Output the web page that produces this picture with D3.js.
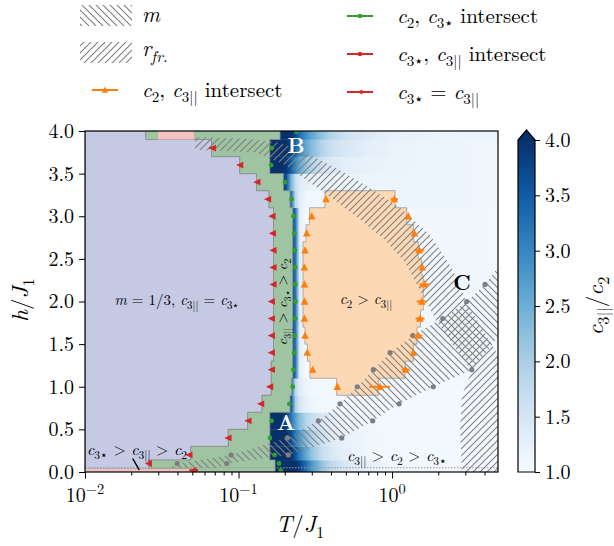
<!DOCTYPE html>
<html><head><meta charset="utf-8">
<script src="https://cdn.jsdelivr.net/npm/d3@7"></script>
<style>body{margin:0;background:#fff}svg{display:block}text{font-family:"Latin Modern Roman","Liberation Serif",serif;fill:#000}</style>
</head><body><svg id="c" width="614" height="546"></svg>
<script>
// ---------- DATA ----------
const xDomain = [0.01, 4.9];
const yDomain = [0, 4];
const yTickValues = [0, 0.5, 1, 1.5, 2, 2.5, 3, 3.5, 4];
const xMajorTicks = [0.01, 0.1, 1];
const xMajorExp = ["\u22122", "\u22121", "0"];
const xMinorTicks = [0.02,0.03,0.04,0.05,0.06,0.07,0.08,0.09,0.2,0.3,0.4,0.5,0.6,0.7,0.8,0.9,2,3,4];
const cbTicks = [1, 1.5, 2, 2.5, 3, 3.5, 4];
const cbDomain = [1, 4];

// heatmap of c3||/c2 : row bands (h) and values at T stops
const heatRowLo = [0, 0.14, 0.3, 0.5, 0.7, 0.9, 1.1, 3.1, 3.3, 3.5, 3.7, 3.9];
const heatRowHi = [0.14, 0.3, 0.5, 0.7, 0.9, 1.1, 3.1, 3.3, 3.5, 3.7, 3.9, 4.0];
const heatStopT = [0.16,0.175,0.19,0.205,0.22,0.235,0.25,0.275,0.3,0.35,0.4,0.5,0.7,1.0,2.0,4.9];
const heatValues = [
  [4,4,4,4,4,4,3.8,3.3,2.8,2.2,1.8,1.45,1.25,1.12,1.08,1.06],
  [4,4,4,4,4,3.6,3.1,2.6,2.2,1.7,1.45,1.25,1.12,1.08,1.06,1.05],
  [4,4,4,4,3.7,3.2,2.8,2.3,2.0,1.6,1.4,1.22,1.12,1.08,1.06,1.05],
  [4,4,4,3.8,3.2,2.7,2.3,1.9,1.7,1.45,1.3,1.18,1.1,1.08,1.06,1.05],
  [4,4,4,4,3.6,2.0,1.5,1.25,1.15,1.1,1.08,1.07,1.07,1.07,1.06,1.05],
  [4,4,4,4,3.5,1.8,1.35,1.15,1.1,1.08,1.07,1.07,1.07,1.07,1.06,1.05],
  [4,4,4,4,4,3.2,1.3,1.05,1.03,1.03,1.04,1.06,1.08,1.1,1.12,1.1],
  [4,4,4,4,3.3,1.8,1.3,1.12,1.1,1.1,1.1,1.1,1.12,1.15,1.15,1.12],
  [4,4,4,3.6,2.4,1.7,1.4,1.25,1.2,1.18,1.15,1.15,1.15,1.15,1.15,1.12],
  [4,4,4,3.9,3.5,3.0,2.6,2.2,1.9,1.6,1.4,1.3,1.22,1.18,1.15,1.12],
  [4,4,4,4,3.8,3.4,3.0,2.6,2.3,1.9,1.65,1.45,1.3,1.2,1.15,1.12],
  [4,4,4,4,4,3.7,3.3,2.9,2.6,2.2,1.9,1.6,1.4,1.25,1.18,1.15]
];

// m = 1/3 region (lavender), rows: h range and right T bound
const lavLo = [3.9, 3.7, 3.5, 3.3, 3.1, 1.3, 0.9, 0.7, 0.5, 0.3, 0.14, 0.035];
const lavHi = [4.0, 3.9, 3.7, 3.5, 3.3, 3.1, 1.3, 0.9, 0.7, 0.5, 0.3, 0.14];
const lavTR = [0.0249, 0.0668, 0.102, 0.131, 0.158, 0.169, 0.1635, 0.1424, 0.1148, 0.0858, 0.0488, 0.026];

// c3|| > c3* > c2 region (green)
const grnLo = [3.9, 3.7, 3.5, 3.3, 3.1, 1.3, 1.1, 0.9, 0.7, 0.5, 0.3, 0.14, 0.035, 0];
const grnHi = [4.0, 3.9, 3.7, 3.5, 3.3, 3.1, 1.3, 1.1, 0.9, 0.7, 0.5, 0.3, 0.14, 0.035];
const grnTL = [0.0249, 0.0668, 0.102, 0.131, 0.158, 0.169, 0.1635, 0.1635, 0.1424, 0.1148, 0.0858, 0.0488, 0.026, 0.05];
const grnTR = [0.1864, 0.160, 0.160, 0.196, 0.2165, 0.2254, 0.2254, 0.222, 0.2165, 0.160, 0.160, 0.160, 0.173, 0.173];

// pink regions
const pinkLo = [3.9, 0];
const pinkHi = [4.0, 0.035];
const pinkTL = [0.0299, 0.01];
const pinkTR = [0.0513, 0.05];

// c2 > c3|| region (orange)
const oraLo = [3.1, 2.9, 2.7, 2.5, 2.3, 1.9, 1.7, 1.5, 1.3, 1.1, 0.9];
const oraHi = [3.3, 3.1, 2.9, 2.7, 2.5, 2.3, 1.9, 1.7, 1.5, 1.3, 1.1];
const oraTL = [0.366, 0.29, 0.275, 0.263, 0.263, 0.263, 0.263, 0.271, 0.281, 0.292, 0.436];
const oraTR = [1.046, 1.247, 1.377, 1.483, 1.562, 1.599, 1.534, 1.455, 1.377, 1.215, 0.814];

// hatched band m (upper-left edge and lower-right edge), [T, h]
const mEdgeA = [[0.036,0.05],[0.0399,0.1],[0.0894,0.2],[0.2079,0.4],[0.3311,0.6],[0.4583,0.8],[0.594,1.0],[0.7553,1.2],[0.9705,1.4],[1.364,1.6],[2.139,1.8],[3.066,2.0],[4.036,2.2],[4.9,2.4]];
const mEdgeB = [[0.075,0.05],[0.0838,0.1],[0.2111,0.2],[0.4701,0.4],[0.7485,0.6],[1.111,0.8],[1.858,1.0],[3.305,1.2],[4.48,1.49],[4.9,1.6]];
// hatched band r_fr.
const rEdgeA = [[0.0521,3.93],[0.1188,3.906],[0.1864,3.86],[0.2922,3.72],[0.4583,3.54],[0.7189,3.33],[1.127,3.10],[1.768,2.78],[2.459,2.39],[3.08,1.98],[4.48,1.49],[4.9,1.37],[4.9,0]];
const rEdgeB = [[0.0521,3.78],[0.1281,3.75],[0.2009,3.60],[0.3396,3.31],[0.574,3.01],[0.900,2.72],[1.215,2.46],[1.522,2.13],[1.964,1.76],[3.305,1.185],[2.858,0.90],[2.773,0.49],[2.858,0]];

// gray boundary points
const grayT = [0.0399,0.0838,0.0894,0.2111,0.2079,0.4701,0.3311,0.7485,0.4583,1.111,0.594,1.858,0.7553,3.305,0.9705,1.364,2.139,3.066,4.036];
const grayH = [0.1,0.1,0.2,0.2,0.4,0.4,0.6,0.6,0.8,0.8,1.0,1.0,1.2,1.2,1.4,1.6,1.8,2.0,2.2];

// c3* = c3|| (red, left triangles)
const redH = [3.8,3.6,3.4,3.2,3.0,2.8,2.6,2.4,2.2,2.0,1.8,1.6,1.4,1.2,1.0,0.8,0.6,0.4,0.2,0.1,0.02];
const redT = [0.0679,0.1023,0.1325,0.1555,0.166,0.1671,0.1686,0.1686,0.1686,0.1645,0.1645,0.1645,0.1645,0.1645,0.1603,0.1402,0.1159,0.0859,0.0478,0.026,0.0508];
const redErrLo = [0.0645,null,null,null,null,null,null,null,null,null,null,null,null,null,null,null,null,null,null,null,0.0478];
const redErrHi = [0.0715,null,null,null,null,null,null,null,null,null,null,null,null,null,null,null,null,null,null,null,0.0545];

// c2, c3* intersect (green dots)
const greenH = [3.99,3.8,3.6,3.4,3.2,3.0,2.8,2.6,2.4,2.2,2.0,1.8,1.6,1.4,1.2,1.0,0.8,0.6,0.4,0.2,0.1,0.02];
const greenT = [0.239,0.1645,0.1629,0.2009,0.2214,0.2281,0.2305,0.2332,0.2341,0.2341,0.2345,0.2345,0.2322,0.23,0.2277,0.2256,0.2142,0.1645,0.1603,0.1717,0.1833,0.1884];

// c2, c3|| intersect (orange up triangles)
const oraMH = [3.2,3.0,2.8,2.6,2.4,2.2,2.0,1.8,1.6,1.4,1.2,1.0];
const oraLeftT = [0.3715,0.2997,0.2782,0.2712,0.2685,0.2685,0.2692,0.2685,0.2712,0.2806,0.3043,0.4403];
const oraRightT = [1.035,1.276,1.397,1.505,1.575,1.622,1.562,1.522,1.484,1.376,1.227,0.835];
const oraErrLo = [0.982,null,null,1.397,null,1.505,1.448,1.423,1.397,null,1.157,0.711];
const oraErrHi = [1.091,null,null,1.623,null,1.750,1.683,1.628,1.576,null,1.304,0.971];

// ---------- DRAW ----------
const FONT = '"Latin Modern Roman","Liberation Serif",serif';
const svg = d3.select("#c");
const X0 = 85, X1 = 498, Y0 = 131, Y1 = 472;
const x = d3.scaleLog().domain(xDomain).range([X0, X1]);
const y = d3.scaleLinear().domain(yDomain).range([Y1, Y0]);
const col = d3.scaleSequential(d3.interpolateBlues).domain(cbDomain).clamp(true);
const defs = svg.append("defs");

defs.append("clipPath").attr("id","clip").append("rect")
  .attr("x",X0).attr("y",Y0).attr("width",X1-X0).attr("height",Y1-Y0);

function hatch(id, d){
  const p = defs.append("pattern").attr("id",id).attr("patternUnits","userSpaceOnUse")
    .attr("width",7).attr("height",7);
  p.append("path").attr("d",d).attr("stroke","#808080").attr("stroke-width",1.1).attr("fill","none");
}
hatch("hM","M0,0L7,7M-1,6L1,8M6,-1L8,1");
hatch("hR","M0,7L7,0M-1,1L1,-1M6,8L8,6");

const plot = svg.append("g").attr("clip-path","url(#clip)");

// heatmap
plot.append("rect").attr("x",X0).attr("y",Y0).attr("width",X1-X0).attr("height",Y1-Y0).attr("fill",col(1.1));
heatRowLo.forEach((lo,i)=>{
  const g = defs.append("linearGradient").attr("id","hg"+i).attr("gradientUnits","userSpaceOnUse")
    .attr("x1",X0).attr("x2",X1).attr("y1",0).attr("y2",0);
  heatStopT.forEach((t,j)=>{
    g.append("stop").attr("offset",(x(t)-X0)/(X1-X0)).attr("stop-color",col(heatValues[i][j]));
  });
  plot.append("rect").attr("x",X0).attr("width",X1-X0)
    .attr("y",y(heatRowHi[i])).attr("height",y(lo)-y(heatRowHi[i])+0.3)
    .attr("fill","url(#hg"+i+")");
});

function stepPath(lo,hi,tl,tr){
  const idx = d3.range(lo.length).sort((a,b)=>hi[b]-hi[a]);
  const pts=[];
  idx.forEach(i=>{pts.push([x(tr[i]),y(hi[i])]);pts.push([x(tr[i]),y(lo[i])]);});
  idx.slice().reverse().forEach(i=>{pts.push([x(tl[i]),y(lo[i])]);pts.push([x(tl[i]),y(hi[i])]);});
  return "M"+pts.map(p=>p[0].toFixed(2)+","+p[1].toFixed(2)).join("L")+"Z";
}
plot.append("path").attr("d",stepPath(lavLo,lavHi,lavLo.map(()=>xDomain[0]),lavTR))
  .attr("fill","#c5c9e3").attr("stroke","#8f8f8f").attr("stroke-width",0.8);
plot.append("path").attr("d",stepPath(grnLo,grnHi,grnTL,grnTR))
  .attr("fill","#9ec4a1").attr("stroke","#8f8f8f").attr("stroke-width",0.8);
pinkLo.forEach((lo,i)=>{
  plot.append("rect").attr("x",x(pinkTL[i])).attr("width",x(pinkTR[i])-x(pinkTL[i]))
    .attr("y",y(pinkHi[i])).attr("height",y(lo)-y(pinkHi[i])).attr("fill","#f5c0c0");
});
plot.append("path").attr("d",stepPath(oraLo,oraHi,oraTL,oraTR))
  .attr("fill","#fdd8b5").attr("stroke","#9a9a9a").attr("stroke-width",0.8);

// dotted line
plot.append("line").attr("x1",X0).attr("x2",X1).attr("y1",y(0.05)).attr("y2",y(0.05))
  .attr("stroke","#999").attr("stroke-width",1).attr("stroke-dasharray","1.5,1.5");

// hatched bands
const line = d3.line().x(d=>x(d[0])).y(d=>y(d[1]));
plot.append("path").attr("d",line(mEdgeA.concat(mEdgeB.slice().reverse()))+"Z").attr("fill","url(#hM)");
plot.append("path").attr("d",line(rEdgeA.concat(rEdgeB.slice().reverse()))+"Z").attr("fill","url(#hR)");

// gray points
grayT.forEach((t,i)=>plot.append("circle").attr("cx",x(t)).attr("cy",y(grayH[i])).attr("r",2.6).attr("fill","#7f7f7f"));

// markers
const RED="#d62728", GRN="#2ca02c", ORA="#ff7f0e";
const leftTri = s=>`M${-s},0L${s*0.8},${-s*0.85}L${s*0.8},${s*0.85}Z`;
const upTri = s=>`M0,${-s}L${s*0.9},${s*0.75}L${-s*0.9},${s*0.75}Z`;
redT.forEach((t,i)=>{
  if(redErrLo[i]!=null) plot.append("line").attr("x1",x(redErrLo[i])).attr("x2",x(redErrHi[i]))
    .attr("y1",y(redH[i])).attr("y2",y(redH[i])).attr("stroke",RED).attr("stroke-width",2);
  plot.append("path").attr("d",leftTri(4)).attr("transform",`translate(${x(t)},${y(redH[i])})`).attr("fill",RED);
});
greenT.forEach((t,i)=>plot.append("circle").attr("cx",x(t)).attr("cy",y(greenH[i])).attr("r",2.4).attr("fill",GRN));
oraMH.forEach((h,i)=>{
  plot.append("path").attr("d",upTri(4.2)).attr("transform",`translate(${x(oraLeftT[i])},${y(h)})`).attr("fill",ORA);
  if(oraErrLo[i]!=null) plot.append("line").attr("x1",x(oraErrLo[i])).attr("x2",x(oraErrHi[i]))
    .attr("y1",y(h)).attr("y2",y(h)).attr("stroke",ORA).attr("stroke-width",2);
  plot.append("path").attr("d",upTri(4.2)).attr("transform",`translate(${x(oraRightT[i])},${y(h)})`).attr("fill",ORA);
});

// math text helper
function mtext(parent, px, py, parts, size, anchor, rot){
  const t = parent.append("text").attr("x",px).attr("y",py).style("font-size",size+"px")
    .style("font-family",FONT).attr("text-anchor",anchor||"start");
  if(rot) t.attr("transform",`rotate(${rot},${px},${py})`);
  let shift=0;
  parts.forEach(([s,st])=>{
    st = st||"";
    const sp = t.append("tspan").text(s);
    let target=0;
    if(st.includes("s")) target = 0.25*size;
    if(st.includes("p")) target = -0.42*size;
    if(target!==shift) sp.attr("dy",target-shift);
    shift=target;
    if(st.includes("s")||st.includes("p")) sp.style("font-size",(0.72*size)+"px");
    if(st.includes("i")) sp.style("font-style","italic");
  });
  return t;
}
const C3P = [["c","i"],["3||","s"]];
const C3S = [["c","i"],["3\u22c6","s"]];
const C2 = [["c","i"],["2","s"]];
const GT = [[" > "]];

// annotations
mtext(svg,177,305,[["m","i"],[" = 1/3, "]].concat(C3P,[[" = "]],C3S),15,"middle");
mtext(svg,366,304,C2.concat(GT,C3P),15,"middle");
mtext(svg,287,302,C3P.concat(GT,C3S,GT,C2),14,"middle",-90);
mtext(svg,137,455,C3S.concat(GT,C3P,GT,C2),16,"middle");
mtext(svg,397,461,C3P.concat(GT,C2,GT,C3S),16,"middle");
svg.append("line").attr("x1",132.7).attr("y1",458.5).attr("x2",139.3).attr("y2",470).attr("stroke","#000").attr("stroke-width",1.5);
[["B",296,153,"#fff"],["A",286,430,"#fff"],["C",462,290,"#000"]].forEach(([s,px,py,c])=>{
  svg.append("text").attr("x",px).attr("y",py).attr("text-anchor","middle").style("font-family",FONT)
    .style("font-size","21px").style("font-weight","bold").style("fill",c).text(s);
});

// axes
const ax = svg.append("g");
const yAxis = ax.append("g").attr("transform",`translate(${X0},0)`)
  .call(d3.axisLeft(y).tickValues(yTickValues).tickFormat(d3.format(".1f")).tickSize(6).tickPadding(5));
const xMinor = ax.append("g").attr("transform",`translate(0,${Y1})`)
  .call(d3.axisBottom(x).tickValues(xMinorTicks).tickFormat("").tickSize(3.5));
const xMajor = ax.append("g").attr("transform",`translate(0,${Y1})`)
  .call(d3.axisBottom(x).tickValues(xMajorTicks).tickFormat("").tickSize(6.5));
ax.selectAll(".domain").remove();
ax.selectAll(".tick line").attr("stroke","#000").attr("stroke-width",1);
yAxis.selectAll("text").style("font-family",FONT).style("font-size","20px").attr("fill","#000");
xMajorTicks.forEach((t,i)=>{
  mtext(svg,x(t),502,[["10"],[xMajorExp[i],"p"]],20,"middle");
});
svg.append("rect").attr("x",X0).attr("y",Y0).attr("width",X1-X0).attr("height",Y1-Y0)
  .attr("fill","none").attr("stroke","#000").attr("stroke-width",1.2);
mtext(svg,300,532,[["T","i"],["/"],["J","i"],["1","s"]],23,"middle");
mtext(svg,28,300,[["h","i"],["/"],["J","i"],["1","s"]],23,"middle",-90);

// colorbar
const CBX=518, CBW=17, CBT=140, CBB=472;
const cy = d3.scaleLinear().domain(cbDomain).range([CBB,CBT]);
const cg = defs.append("linearGradient").attr("id","cbg").attr("x1",0).attr("x2",0).attr("y1",1).attr("y2",0);
d3.range(0,1.0001,0.1).forEach(f=>cg.append("stop").attr("offset",f).attr("stop-color",col(cbDomain[0]+f*(cbDomain[1]-cbDomain[0]))));
svg.append("rect").attr("x",CBX).attr("y",CBT).attr("width",CBW).attr("height",CBB-CBT).attr("fill","url(#cbg)");
svg.append("path").attr("d",`M${CBX},${CBT}L${CBX+CBW/2},${CBT-10}L${CBX+CBW},${CBT}Z`).attr("fill",col(4));
svg.append("path").attr("d",`M${CBX},${CBB}L${CBX},${CBT}L${CBX+CBW/2},${CBT-10}L${CBX+CBW},${CBT}L${CBX+CBW},${CBB}Z`)
  .attr("fill","none").attr("stroke","#000").attr("stroke-width",1.2);
const cax = svg.append("g").attr("transform",`translate(${CBX+CBW},0)`)
  .call(d3.axisRight(cy).tickValues(cbTicks).tickFormat(d3.format(".1f")).tickSize(5).tickPadding(5));
cax.select(".domain").remove();
cax.selectAll("text").style("font-family",FONT).style("font-size","20px").attr("fill","#000");
mtext(svg,603,306,C3P.concat([["/"]],C2),23,"middle",-90);

// legend
const lg = svg.append("g");
lg.append("rect").attr("x",80).attr("y",5).attr("width",52).attr("height",21).attr("fill","url(#hM)");
lg.append("rect").attr("x",80).attr("y",42).attr("width",52).attr("height",21).attr("fill","url(#hR)");
mtext(lg,142,22,[["m","i"]],22);
mtext(lg,142,56,[["r","i"],["fr.","si"]],22);
lg.append("line").attr("x1",92).attr("x2",118).attr("y1",90).attr("y2",90).attr("stroke",ORA).attr("stroke-width",2);
lg.append("path").attr("d",upTri(3.5)).attr("transform","translate(105,90)").attr("fill",ORA);
mtext(lg,142,97,C2.concat([[", "]],C3P,[[" intersect"]]),21);
const legR = [[16,GRN,"dot",C2.concat([[", "]],C3S,[[" intersect"]])],
              [54,RED,"dot",C3S.concat([[", "]],C3P,[[" intersect"]])],
              [92,RED,"tri",C3S.concat([[" = "]],C3P)]];
legR.forEach(([yy,c,m,parts])=>{
  lg.append("line").attr("x1",347).attr("x2",373).attr("y1",yy).attr("y2",yy).attr("stroke",c).attr("stroke-width",2);
  if(m==="dot") lg.append("circle").attr("cx",360).attr("cy",yy).attr("r",2.3).attr("fill",c);
  else lg.append("path").attr("d",leftTri(3)).attr("transform",`translate(360,${yy})`).attr("fill",c);
  mtext(lg,397,yy+7,parts,21);
});
</script></body></html>
